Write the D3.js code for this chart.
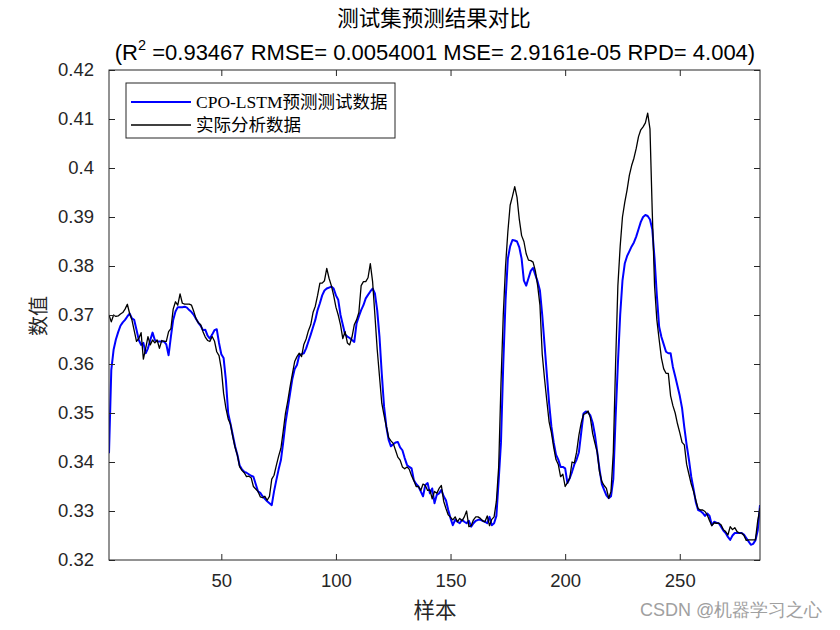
<!DOCTYPE html>
<html><head><meta charset="utf-8">
<script src="https://cdn.jsdelivr.net/npm/d3@7"></script>
<style>body{margin:0;background:#fff} svg{display:block}</style>
</head><body><svg id="c" width="840" height="630"></svg>
<script>
// Actual measured data (black)
const actual = [
0.3700,0.3686,0.3700,0.3697,0.3698,0.3702,0.3705,0.3712,0.3722,0.3703,
0.3690,0.3668,0.3646,0.3652,0.3664,0.3610,0.3632,0.3656,0.3639,0.3649,
0.3643,0.3649,0.3632,0.3648,0.3646,0.3646,0.3666,0.3672,0.3712,0.3727,
0.3720,0.3743,0.3724,0.3722,0.3722,0.3722,0.3720,0.3707,0.3692,0.3684,
0.3680,0.3666,0.3655,0.3648,0.3646,0.3656,0.3647,0.3625,0.3617,0.3590,
0.3540,0.3510,0.3488,0.3477,0.3452,0.3430,0.3414,0.3390,0.3383,0.3378,
0.3370,0.3371,0.3368,0.3350,0.3345,0.3340,0.3329,0.3327,0.3330,0.3322,
0.3330,0.3365,0.3373,0.3393,0.3412,0.3428,0.3463,0.3500,0.3525,0.3554,
0.3580,0.3605,0.3615,0.3622,0.3615,0.3640,0.3651,0.3668,0.3680,0.3705,
0.3718,0.3740,0.3765,0.3765,0.3770,0.3795,0.3775,0.3760,0.3740,0.3716,
0.3700,0.3680,0.3652,0.3666,0.3643,0.3639,0.3655,0.3680,0.3690,0.3705,
0.3760,0.3768,0.3768,0.3776,0.3805,0.3768,0.3700,0.3630,0.3575,0.3520,
0.3495,0.3472,0.3450,0.3443,0.3438,0.3424,0.3410,0.3404,0.3390,0.3386,
0.3390,0.3385,0.3372,0.3362,0.3350,0.3350,0.3342,0.3355,0.3352,0.3342,
0.3343,0.3325,0.3340,0.3336,0.3346,0.3352,0.3320,0.3305,0.3292,0.3287,
0.3282,0.3288,0.3278,0.3285,0.3280,0.3288,0.3300,0.3268,0.3270,0.3282,
0.3288,0.3288,0.3285,0.3280,0.3278,0.3290,0.3270,0.3283,0.3288,0.3320,
0.3390,0.3560,0.3700,0.3800,0.3870,0.3924,0.3942,0.3962,0.3940,0.3895,
0.3862,0.3850,0.3825,0.3812,0.3811,0.3808,0.3790,0.3760,0.3720,0.3620,
0.3570,0.3525,0.3482,0.3460,0.3430,0.3405,0.3395,0.3370,0.3375,0.3350,
0.3358,0.3367,0.3400,0.3398,0.3420,0.3455,0.3480,0.3497,0.3499,0.3504,
0.3490,0.3458,0.3438,0.3420,0.3380,0.3360,0.3352,0.3346,0.3326,0.3340,
0.3420,0.3600,0.3760,0.3840,0.3900,0.3930,0.3955,0.3985,0.4005,0.4020,
0.4040,0.4064,0.4078,0.4084,0.4092,0.4112,0.4080,0.3910,0.3760,0.3690,
0.3650,0.3612,0.3590,0.3581,0.3581,0.3535,0.3515,0.3500,0.3478,0.3460,
0.3440,0.3435,0.3395,0.3375,0.3355,0.3340,0.3322,0.3305,0.3302,0.3302,
0.3299,0.3292,0.3280,0.3270,0.3276,0.3275,0.3275,0.3272,0.3262,0.3258,
0.3251,0.3268,0.3262,0.3266,0.3258,0.3255,0.3255,0.3250,0.3240,0.3241,
0.3241,0.3241,0.3241,0.3280,0.3306
];
// CPO-LSTM predictions (blue)
const predicted = [
0.3418,0.3588,0.3629,0.3650,0.3665,0.3678,0.3685,0.3690,0.3697,0.3703,
0.3693,0.3690,0.3670,0.3649,0.3639,0.3643,0.3622,0.3632,0.3649,0.3664,
0.3649,0.3646,0.3646,0.3646,0.3646,0.3640,0.3618,0.3656,0.3690,0.3707,
0.3716,0.3716,0.3716,0.3717,0.3715,0.3710,0.3706,0.3700,0.3692,0.3684,
0.3678,0.3669,0.3670,0.3658,0.3652,0.3660,0.3669,0.3671,0.3643,0.3620,
0.3612,0.3567,0.3499,0.3478,0.3455,0.3432,0.3415,0.3393,0.3385,0.3380,
0.3378,0.3375,0.3372,0.3370,0.3355,0.3340,0.3337,0.3330,0.3325,0.3320,
0.3316,0.3312,0.3340,0.3363,0.3385,0.3404,0.3440,0.3480,0.3510,0.3540,
0.3570,0.3590,0.3598,0.3618,0.3620,0.3622,0.3632,0.3646,0.3660,0.3675,
0.3690,0.3710,0.3724,0.3740,0.3750,0.3754,0.3756,0.3758,0.3754,0.3740,
0.3731,0.3700,0.3680,0.3660,0.3656,0.3653,0.3649,0.3645,0.3683,0.3697,
0.3710,0.3720,0.3734,0.3741,0.3748,0.3754,0.3744,0.3710,0.3656,0.3580,
0.3513,0.3472,0.3445,0.3432,0.3436,0.3440,0.3441,0.3430,0.3424,0.3408,
0.3394,0.3390,0.3387,0.3363,0.3355,0.3350,0.3340,0.3330,0.3353,0.3357,
0.3336,0.3346,0.3316,0.3333,0.3336,0.3343,0.3330,0.3322,0.3302,0.3285,
0.3271,0.3282,0.3278,0.3275,0.3282,0.3278,0.3275,0.3280,0.3268,0.3275,
0.3280,0.3282,0.3282,0.3280,0.3278,0.3275,0.3288,0.3271,0.3275,0.3290,
0.3363,0.3440,0.3600,0.3730,0.3815,0.3840,0.3853,0.3852,0.3850,0.3838,
0.3815,0.3770,0.3760,0.3775,0.3790,0.3796,0.3782,0.3768,0.3750,0.3700,
0.3640,0.3580,0.3520,0.3472,0.3440,0.3415,0.3405,0.3390,0.3390,0.3387,
0.3357,0.3367,0.3380,0.3395,0.3405,0.3420,0.3460,0.3499,0.3503,0.3501,
0.3495,0.3480,0.3455,0.3420,0.3385,0.3355,0.3343,0.3332,0.3326,0.3330,
0.3365,0.3490,0.3600,0.3700,0.3770,0.3805,0.3820,0.3830,0.3840,0.3848,
0.3860,0.3875,0.3890,0.3900,0.3904,0.3902,0.3895,0.3875,0.3815,0.3740,
0.3676,0.3655,0.3640,0.3625,0.3622,0.3622,0.3594,0.3575,0.3555,0.3535,
0.3510,0.3470,0.3435,0.3405,0.3370,0.3345,0.3318,0.3302,0.3300,0.3296,
0.3290,0.3295,0.3290,0.3271,0.3278,0.3276,0.3275,0.3268,0.3260,0.3255,
0.3247,0.3241,0.3250,0.3255,0.3255,0.3255,0.3255,0.3252,0.3245,0.3238,
0.3231,0.3233,0.3240,0.3260,0.3312
];
const xTicks = [50, 100, 150, 200, 250];
const yTicks = [0.32, 0.33, 0.34, 0.35, 0.36, 0.37, 0.38, 0.39, 0.40, 0.41, 0.42];
const yTickLabels = ["0.32","0.33","0.34","0.35","0.36","0.37","0.38","0.39","0.4","0.41","0.42"];
const seriesNames = ["CPO-LSTM预测测试数据", "实际分析数据"];
const titleLine1 = "测试集预测结果对比";
const metricsText = " =0.93467 RMSE= 0.0054001 MSE= 2.9161e-05 RPD= 4.004)";
const xLabel = "样本";
const yLabel = "数值";
const watermark = "CSDN @机器学习之心";

const svg = d3.select("#c");
const W = 840, H = 630;
const m = {left: 109, right: 80, top: 70, bottom: 70};
const pw = W - m.left - m.right, ph = H - m.top - m.bottom;
const N = actual.length;

const x = d3.scaleLinear().domain([1, N]).range([m.left, m.left + pw]);
const y = d3.scaleLinear().domain([0.32, 0.42]).range([m.top + ph, m.top]);

svg.append("rect").attr("width", W).attr("height", H).attr("fill", "#fff");

const axisColor = "#262626";
const tickFont = "Liberation Sans, Arial, sans-serif";
const cjk = "Noto Sans CJK SC, sans-serif";

svg.append("clipPath").attr("id", "clip").append("rect")
  .attr("x", m.left).attr("y", m.top).attr("width", pw).attr("height", ph);

const line = d3.line().x((d, i) => x(i + 1)).y(d => y(d));
const g = svg.append("g").attr("clip-path", "url(#clip)");
g.append("path").datum(predicted).attr("d", line).attr("fill", "none")
  .attr("stroke", "#0000ff").attr("stroke-width", 2).attr("stroke-linejoin", "round");
g.append("path").datum(actual).attr("d", line).attr("fill", "none")
  .attr("stroke", "#000").attr("stroke-width", 1.3).attr("stroke-linejoin", "round");

function styleAxis(sel) {
  sel.selectAll("path.domain").remove();
  sel.selectAll("line").attr("stroke", axisColor);
  sel.selectAll("text").attr("fill", axisColor).attr("font-family", tickFont).attr("font-size", "18.5px");
}
const xb = svg.append("g").attr("transform", `translate(0,${m.top + ph})`)
  .call(d3.axisBottom(x).tickValues(xTicks).tickSize(-6).tickPadding(14).tickFormat(d3.format("d")));
styleAxis(xb);
const xt = svg.append("g").attr("transform", `translate(0,${m.top})`)
  .call(d3.axisTop(x).tickValues(xTicks).tickSize(-6).tickFormat(""));
styleAxis(xt);
const yl = svg.append("g").attr("transform", `translate(${m.left},0)`)
  .call(d3.axisLeft(y).tickValues(yTicks).tickSize(-6).tickPadding(15)
  .tickFormat((d, i) => yTickLabels[i]));
styleAxis(yl);
const yr = svg.append("g").attr("transform", `translate(${m.left + pw},0)`)
  .call(d3.axisRight(y).tickValues(yTicks).tickSize(-6).tickFormat(""));
styleAxis(yr);

svg.append("rect").attr("x", m.left).attr("y", m.top).attr("width", pw).attr("height", ph)
  .attr("fill", "none").attr("stroke", axisColor).attr("stroke-width", 1);

// titles
svg.append("text").attr("x", 434).attr("y", 26).attr("text-anchor", "middle")
  .attr("font-family", cjk).attr("font-size", "21.5px").attr("fill", "#000").text(titleLine1);
const t2 = svg.append("text").attr("x", 435).attr("y", 60).attr("text-anchor", "middle")
  .attr("font-family", tickFont).attr("font-size", "22px").attr("fill", "#000");
t2.append("tspan").text("(R");
t2.append("tspan").attr("font-size", "14.5px").attr("dy", -10).text("2");
t2.append("tspan").attr("dy", 10).text(metricsText);

// axis labels
svg.append("text").attr("x", 435).attr("y", 618).attr("text-anchor", "middle")
  .attr("font-family", cjk).attr("font-size", "21.5px").attr("fill", axisColor).text(xLabel);
svg.append("text").attr("transform", "translate(46,316) rotate(-90)").attr("text-anchor", "middle")
  .attr("font-family", cjk).attr("font-size", "20px").attr("fill", axisColor).text(yLabel);

// legend
const lg = svg.append("g");
lg.append("rect").attr("x", 126).attr("y", 83).attr("width", 269).attr("height", 55)
  .attr("fill", "#fff").attr("stroke", axisColor).attr("stroke-width", 1);
const legendColors = ["#0000ff", "#000"];
const legendWidths = [2, 1.3];
seriesNames.forEach((name, i) => {
  const yy = 102 + i * 23;
  lg.append("line").attr("x1", 131).attr("x2", 191).attr("y1", yy).attr("y2", yy)
    .attr("stroke", legendColors[i]).attr("stroke-width", legendWidths[i]);
  const t = lg.append("text").attr("x", 196).attr("y", yy + 6)
    .attr("font-family", "Liberation Serif, Times New Roman, serif").attr("font-size", "17.5px").attr("fill", "#000");
  const m2 = name.match(/^([A-Za-z\-]*)(.*)$/);
  if (m2[1]) t.append("tspan").text(m2[1]);
  t.append("tspan").attr("font-family", cjk).attr("font-size", "17.5px").text(m2[2]);
});

// watermark
svg.append("text").attr("x", 640).attr("y", 616).attr("font-family", "Liberation Sans, Arial, sans-serif")
  .attr("font-size", "18px").attr("fill", "#a0a0a0").text(watermark);
</script></body></html>
